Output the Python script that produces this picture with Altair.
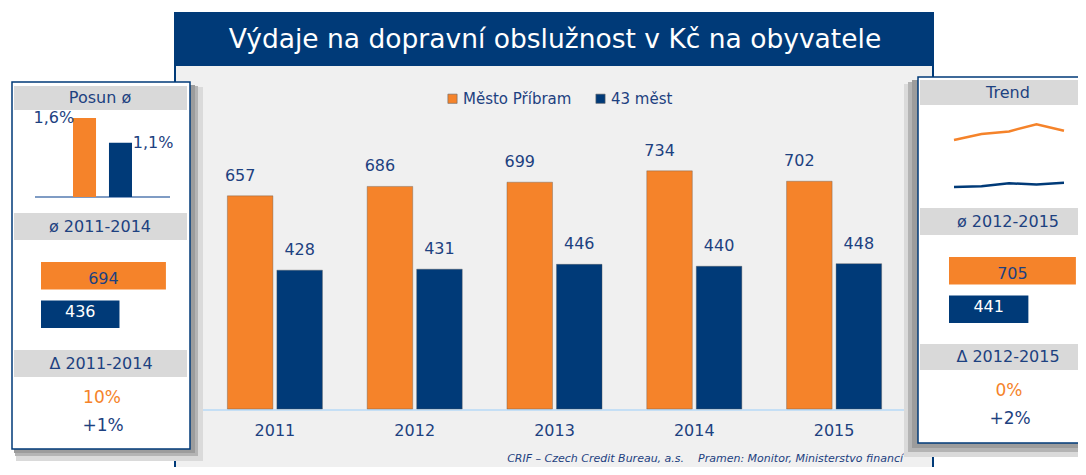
import altair as alt
import pandas as pd

# ---------------- data ----------------
years = ["2011", "2012", "2013", "2014", "2015"]
pribram = [657, 686, 699, 734, 702]
mest43 = [428, 431, 446, 440, 448]
series = ["Město Příbram", "43 měst"]

posun = [1.6, 1.1]
avg_2011_2014 = [694, 436]
avg_2012_2015 = [705, 441]
delta_2011_2014 = ["10%", "+1%"]
delta_2012_2015 = ["0%", "+2%"]

title_text = "Výdaje na dopravní obslužnost v Kč na obyvatele"
footer_text = "CRIF – Czech Credit Bureau, a.s.\u00a0\u00a0\u00a0\u00a0Pramen: Monitor, Ministerstvo financí"

# ---------------- styles ----------------
ORANGE = "#f5832a"
NAVY = "#003a78"
TXT = "#1d4180"
GREY = "#d9d9d9"
BG = "#f0f0f0"
FONT = "Verdana, DejaVu Sans"

M = 8  # page margin: reference pixel -> chart pixel


def p(v):
    return v - M


ONE = pd.DataFrame({"k": [0]})


def box(x1, y1, x2, y2, fill, stroke=None, sw=0.0):
    kw = dict(fill=fill, strokeWidth=sw)
    if stroke:
        kw["stroke"] = stroke
    return alt.Chart(ONE).mark_rect(**kw).encode(
        x=alt.value(p(x1)), x2=alt.value(p(x2)), y=alt.value(p(y1)), y2=alt.value(p(y2))
    )


def label(text, x, y, size=16, color=TXT, align="center", style="normal"):
    return alt.Chart(ONE).mark_text(
        text=text, font=FONT, fontSize=size, color=color, align=align,
        baseline="middle", fontStyle=style
    ).encode(x=alt.value(p(x)), y=alt.value(p(y)))


color_scale = alt.Scale(domain=series, range=[ORANGE, NAVY])

# ---------------- main chart ----------------
main = pd.DataFrame({
    "year": years * 2,
    "series": [series[0]] * len(years) + [series[1]] * len(years),
    "value": pribram + mest43,
})

x_main = alt.Scale(domain=years, range=[p(205), p(904)], paddingInner=0.32, paddingOuter=0.16)
xo_main = alt.Scale(domain=series, paddingInner=0.08)
y_main = alt.Scale(domain=[0, 900], range=[p(409), p(117)], nice=False)

enc_main = dict(
    x=alt.X("year:N", scale=x_main, axis=None),
    xOffset=alt.XOffset("series:N", scale=xo_main, sort=series),
    y=alt.Y("value:Q", scale=y_main, axis=None),
)

bars = alt.Chart(main).mark_bar(stroke="#555555", strokeWidth=0.6, strokeOpacity=0.6).encode(
    color=alt.Color(
        "series:N", scale=color_scale, sort=series,
        legend=alt.Legend(
            orient="none", legendX=p(445), legendY=p(91), direction="horizontal",
            title=None, symbolType="square", symbolSize=85, symbolStrokeWidth=0.6,
            symbolStrokeColor="#666666", labelFont=FONT, labelFontSize=15,
            labelColor=TXT, labelOffset=3, columnPadding=21,
        ),
    ),
    **enc_main,
)

val_or = alt.Chart(main).transform_filter(alt.datum.series == series[0]).mark_text(
    font=FONT, fontSize=16, color=TXT, baseline="alphabetic", dy=-15, dx=-10
).encode(text="value:Q", **enc_main)
val_nv = alt.Chart(main).transform_filter(alt.datum.series == series[1]).mark_text(
    font=FONT, fontSize=16, color=TXT, baseline="alphabetic", dy=-15
).encode(text="value:Q", **enc_main)

year_lab = alt.Chart(pd.DataFrame({"year": years})).mark_text(
    font=FONT, fontSize=16, color=TXT, baseline="middle"
).encode(x=alt.X("year:N", scale=x_main, axis=None), y=alt.value(p(431)), text="year:N")

baseline = alt.Chart(ONE).mark_rule(color="#c5dff5", strokeWidth=2).encode(
    x=alt.value(p(203)), x2=alt.value(p(905)), y=alt.value(p(410))
)

# ---------------- left panel ----------------
posun_df = pd.DataFrame({"series": series, "value": posun})
x_pos = alt.Scale(domain=series, range=[p(48), p(157)], paddingInner=0.36, paddingOuter=0.695)
y_pos = alt.Scale(domain=[0, 1.6], range=[p(197), p(118)], nice=False)
enc_pos = dict(
    x=alt.X("series:N", scale=x_pos, sort=series, axis=None),
    y=alt.Y("value:Q", scale=y_pos, axis=None),
)
posun_bars = alt.Chart(posun_df).mark_bar().encode(
    color=alt.Color("series:N", scale=color_scale, legend=None), **enc_pos
)
pct_expr = "replace(format(datum.value, '.1f'), '.', ',') + '%'"
posun_l1 = alt.Chart(posun_df).transform_filter(alt.datum.series == series[0]).transform_calculate(
    lab=pct_expr).mark_text(font=FONT, fontSize=16, color=TXT, align="right", baseline="middle", dx=-1
).encode(text="lab:N", **enc_pos)
posun_l2 = alt.Chart(posun_df).transform_filter(alt.datum.series == series[1]).transform_calculate(
    lab=pct_expr).mark_text(font=FONT, fontSize=16, color=TXT, align="left", baseline="middle", dx=3
).encode(text="lab:N", **enc_pos)
posun_axis = alt.Chart(ONE).mark_rule(color="#7f9cc4", strokeWidth=2).encode(
    x=alt.value(p(35)), x2=alt.value(p(170)), y=alt.value(p(197))
)


def avg_layers(values, x0, y0, y1):
    df = pd.DataFrame({"series": series, "value": values})
    xs = alt.Scale(domain=[0, 1000], range=[p(x0), p(x0 + 180)], nice=False)
    ys = alt.Scale(domain=series, range=[p(y0), p(y1)], paddingInner=0.286, paddingOuter=0)
    b = alt.Chart(df).mark_bar().encode(
        x=alt.X("value:Q", scale=xs, axis=None),
        y=alt.Y("series:N", scale=ys, sort=series, axis=None),
        color=alt.Color("series:N", scale=color_scale, legend=None),
    )
    t = alt.Chart(df).transform_calculate(half="datum.value / 2").mark_text(
        font=FONT, fontSize=16, baseline="middle"
    ).encode(
        x=alt.X("half:Q", scale=xs, axis=None),
        y=alt.Y("series:N", scale=ys, sort=series, axis=None),
        text="value:Q",
        color=alt.condition(alt.datum.series == series[0], alt.value(TXT), alt.value("white")),
    )
    return [b, t]


# ---------------- right panel sparkline ----------------
x_tr = alt.Scale(type="point", domain=years, range=[p(954), p(1064)], padding=0)
y_tr = alt.Scale(domain=[400, 760], range=[p(192.7), p(118.9)], nice=False, zero=False)
trend = alt.Chart(main).mark_line(strokeWidth=2.5).encode(
    x=alt.X("year:O", scale=x_tr, axis=None),
    y=alt.Y("value:Q", scale=y_tr, axis=None),
    color=alt.Color("series:N", scale=color_scale, legend=None),
)

# ---------------- assemble ----------------
layers = [
    # main panel
    box(175, 66, 934, 480, BG),
    box(174, 12, 176, 480, NAVY),
    box(932, 12, 934, 480, NAVY),
    box(174, 12, 934, 66, NAVY),
    label(title_text, 555, 40, size=26.5, color="white"),
    baseline,
    bars, val_or, val_nv, year_lab,
    label(footer_text, 903, 459, size=11, color=TXT, align="right", style="italic"),
    # left panel
    box(16, 87, 203, 461, "#dadada"),
    box(15, 86, 198, 456, "#b4b4b4"),
    box(14, 85, 195, 453, "#9c9c9c"),
    box(12, 82, 190, 449, "white", stroke=NAVY, sw=1.5),
    box(14, 86, 187, 110, GREY),
    label("Posun ø", 100, 98),
    posun_axis, posun_bars, posun_l1, posun_l2,
    box(14, 213, 187, 240, GREY),
    label("ø 2011-2014", 100, 227),
    *avg_layers(avg_2011_2014, 41, 262, 328),
    box(14, 350, 187, 377, GREY),
    label("Δ 2011-2014", 101, 364),
    label(delta_2011_2014[0], 102, 398, size=17, color=ORANGE),
    label(delta_2011_2014[1], 103, 426, size=17, color=TXT),
    # right panel
    box(904, 84, 1090, 457, "#dadada"),
    box(908, 82, 1090, 452, "#b4b4b4"),
    box(912, 80, 1090, 448, "#9c9c9c"),
    box(918, 77, 1092, 443, "white", stroke=NAVY, sw=1.5),
    box(920, 80, 1090, 105, GREY),
    label("Trend", 1008, 93),
    trend,
    box(920, 208, 1090, 235, GREY),
    label("ø 2012-2015", 1008, 222),
    *avg_layers(avg_2012_2015, 949, 257, 323),
    box(920, 344, 1090, 370, GREY),
    label("Δ 2012-2015", 1008, 357),
    label(delta_2012_2015[0], 1009, 391, size=17, color=ORANGE),
    label(delta_2012_2015[1], 1010, 419, size=17, color=TXT),
]

chart = alt.layer(*layers).resolve_scale(
    x="independent", y="independent", color="independent"
).properties(
    width=1070, height=459, padding=0, background="white",
    autosize=alt.AutoSizeParams(type="none"),
).configure_view(strokeWidth=0)

chart.save("out.html", embed_options={"renderer": "svg", "actions": False})
